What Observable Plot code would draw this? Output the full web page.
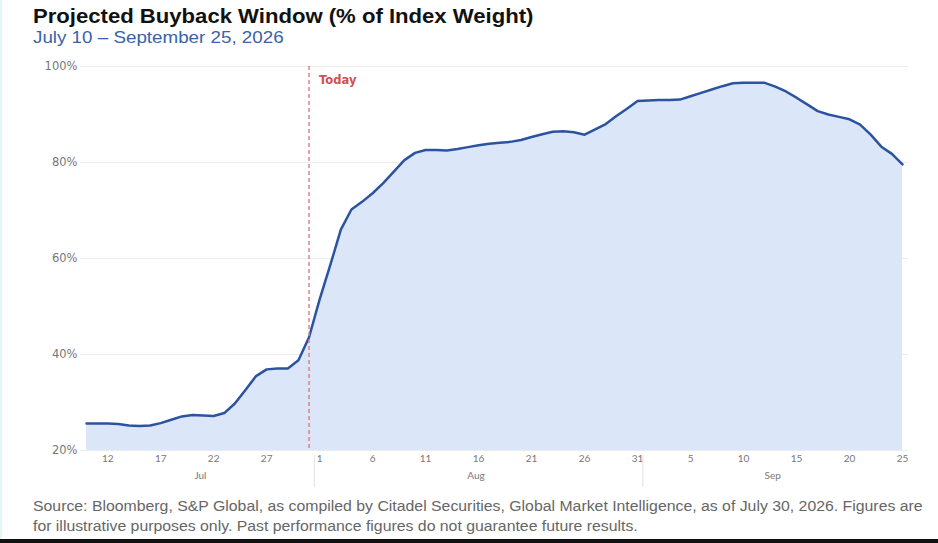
<!DOCTYPE html>
<html>
<head>
<meta charset="utf-8">
<script src="https://cdn.jsdelivr.net/npm/d3@7"></script>
<script src="https://cdn.jsdelivr.net/npm/@observablehq/plot@0.6"></script>
<style>
  html, body { margin: 0; padding: 0; background: #fff; }
  #wrap { position: relative; width: 938px; height: 543px; overflow: hidden; background: #fff; }
  .stretch { transform: scaleX(1.105); transform-origin: 0 0; }
  #title { position: absolute; left: 33px; top: 5px; font: bold 20px "Liberation Sans", Arial, sans-serif; color: #111; white-space: nowrap; }
  #subtitle { position: absolute; left: 33px; top: 28px; font: 17px "Liberation Sans", Arial, sans-serif; color: #3a62a8; white-space: nowrap; }
  #chart { position: absolute; left: 0; top: 55px; }
  #caption { position: absolute; left: 33px; top: 496px; width: 796px; font: 14px/20px "Liberation Sans", Arial, sans-serif; color: #666; transform: scaleX(1.13); transform-origin: 0 0; }
  #edge { position: absolute; left: 0; top: 0; width: 2px; height: 543px; background: #e3f6fa; }
  #bottom { position: absolute; left: 0; top: 539px; width: 938px; height: 4px; background: #111; }
</style>
</head>
<body>
<div id="wrap">
  <div id="edge"></div>
  <div id="title" class="stretch">Projected Buyback Window (% of Index Weight)</div>
  <div id="subtitle" class="stretch">July 10 – September 25, 2026</div>
  <div id="chart"></div>
  <div id="caption">Source: Bloomberg, S&amp;P Global, as compiled by Citadel Securities, Global Market Intelligence, as of July 30, 2026. Figures are for illustrative purposes only. Past performance figures do not guarantee future results.</div>
  <div id="bottom"></div>
</div>
<script>
// ---- data (daily, % of index weight) ----
const startDate = "2026-07-10";
const julyValues = [25.6,25.6,25.6,25.5,25.2,25.1,25.2,25.7,26.4,27.1,27.4,27.3,27.2,27.8,29.8,32.6,35.5,36.9,37.1,37.1,38.8,43.6];
const augustValues = [51.5,58.6,66.0,70.2,71.8,73.6,75.7,78.1,80.5,82.0,82.6,82.6,82.5,82.8,83.2,83.6,83.9,84.1,84.3,84.7,85.3,85.9,86.4,86.5,86.3,85.8,86.9,88.0,89.7,91.2,92.8];
const septemberValues = [92.9,93.0,93.0,93.1,93.8,94.5,95.2,95.9,96.5,96.6,96.6,96.6,95.8,94.8,93.5,92.1,90.7,90.0,89.5,89.0,87.9,85.8,83.3,81.8,79.6];
const todayDate = "2026-07-31";
const xTickDates = ["2026-07-12","2026-07-17","2026-07-22","2026-07-27","2026-08-01","2026-08-06","2026-08-11","2026-08-16","2026-08-21","2026-08-26","2026-08-31","2026-09-05","2026-09-10","2026-09-15","2026-09-20","2026-09-25"];
const monthLabels = ["Jul","Aug","Sep"];
const monthLabelDates = ["2026-07-20T18:00","2026-08-15T18:00","2026-09-12T18:00"];
const monthSeparatorDates = ["2026-07-31T12:00","2026-08-31T12:00"];
const yTicks = [20,40,60,80,100];
const yDomain = [20,100];

// ---- build table ----
const parse = s => new Date(s + (s.length === 10 ? "T00:00Z" : "Z"));
const allValues = [...julyValues, ...augustValues, ...septemberValues];
const start = parse(startDate);
const data = allValues.map((v, i) => ({date: d3.utcDay.offset(start, i), value: v}));
const today = parse(todayDate);

const plot = Plot.plot({
  width: 938,
  height: 440,
  marginLeft: 86,
  marginRight: 36,
  marginTop: 11,
  marginBottom: 45,
  style: {background: "transparent", overflow: "visible"},
  x: {type: "utc", domain: [data[0].date, data[data.length - 1].date]},
  y: {domain: yDomain},
  marks: [
    Plot.ruleY(yTicks, {stroke: "#ececec", strokeWidth: 1, insetLeft: -6, insetRight: -6}),
    Plot.areaY(data, {x: "date", y1: yDomain[0], y2: "value", fill: "#dbe7f8"}),
    Plot.lineY(data, {x: "date", y: "value", stroke: "#2c53a0", strokeWidth: 2.5, strokeLinejoin: "round"}),
    Plot.ruleX([today], {stroke: "#e07a7a", strokeWidth: 1.4, strokeDasharray: "4,3"}),
    Plot.text(["Today"], {x: () => today, text: d => d, frameAnchor: "top", dx: 10, dy: 9, textAnchor: "start", fill: "#d24f4f", fontWeight: "bold", fontSize: 11.5, fontFamily: "DejaVu Sans"}),
    Plot.axisY({ticks: yTicks, tickSize: 0, tickPadding: 9, tickFormat: d => d + "%", fontSize: 11.5, fontFamily: "DejaVu Sans", color: "#777", label: null}),
    Plot.axisX({ticks: xTickDates.map(parse), tickSize: 0, tickPadding: 4, tickFormat: d3.utcFormat("%-d"), fontSize: 10, fontFamily: "Lato", color: "#777", label: null}),
    Plot.tickX(monthSeparatorDates.map(parse), {x: d => d, stroke: "#e2e2e2", strokeWidth: 1, insetTop: 389, insetBottom: -37}),
    Plot.text(monthLabels, {x: (d, i) => parse(monthLabelDates[i]), text: d => d, frameAnchor: "bottom", dy: 28, fill: "#777", fontSize: 10, fontFamily: "Lato"})
  ]
});
document.getElementById("chart").appendChild(plot);
</script>
</body>
</html>
